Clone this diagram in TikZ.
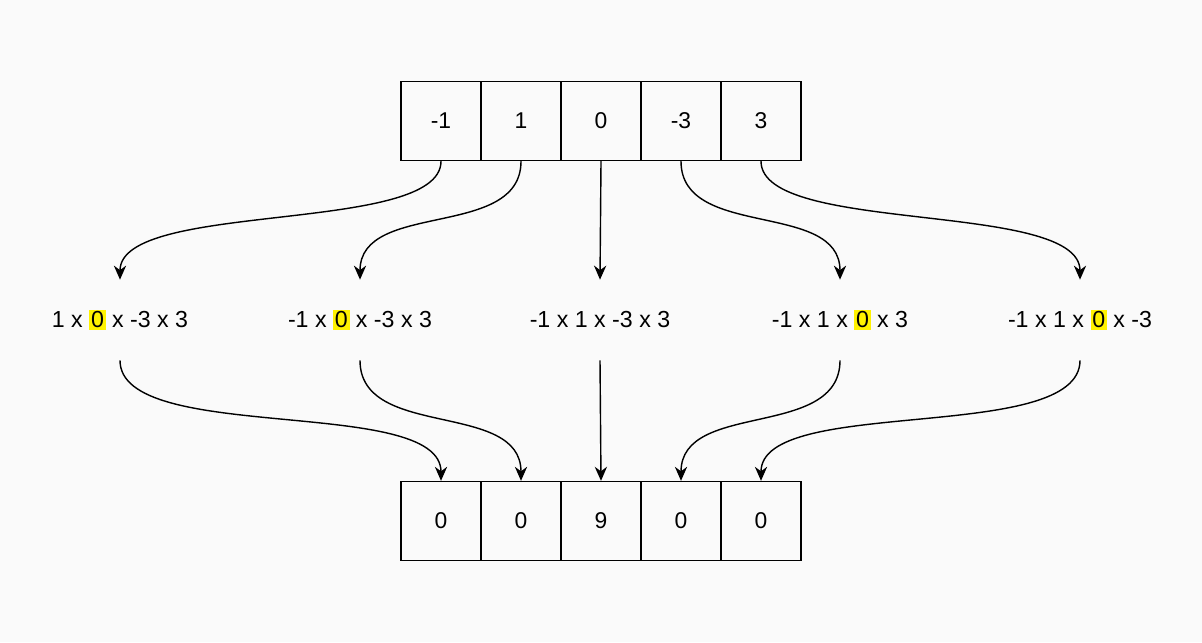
\documentclass[tikz,border=0pt]{standalone}
\usepackage{fontspec}
\setmainfont{Liberation Sans}
\usetikzlibrary{arrows.meta}
\newcommand{\hl}[1]{{\setlength{\fboxsep}{1pt}\colorbox{yellow}{#1}}}

\begin{document}
\begin{tikzpicture}[x=0.02cm,y=-0.02cm]
    \tikzstyle{cell}=[draw,thick,minimum width=1.6cm,minimum height=1.58cm,inner sep=0pt,font=\fontsize{13}{15}\selectfont];
    \tikzstyle{prod}=[minimum height=1.6cm,minimum width=1cm,inner sep=0pt,font=\fontsize{13.2}{15}\selectfont];
    \tikzstyle{flow}=[thick,-{Stealth[length=8pt,width=7pt]}];

    \fill[black!2] (0,0) rectangle (1202,642);

    \node (t1) [cell] at (441,121) {-1}; \node (t2) [cell] at (521,121) {1};
    \node (t3) [cell] at (601,121) {0}; \node (t4) [cell] at (681,121) {-3};
    \node (t5) [cell] at (761,121) {3};

    \node (b1) [cell] at (441,521) {0}; \node (b2) [cell] at (521,521) {0};
    \node (b3) [cell] at (601,521) {9}; \node (b4) [cell] at (681,521) {0};
    \node (b5) [cell] at (761,521) {0};

    \node (m1) [prod] at (120,320) {1 x \hl{0} x -3 x 3};
    \node (m2) [prod] at (360,320) {-1 x \hl{0} x -3 x 3};
    \node (m3) [prod] at (600,320) {-1 x 1 x -3 x 3};
    \node (m4) [prod] at (840,320) {-1 x 1 x \hl{0} x 3};
    \node (m5) [prod] at (1080,320) {-1 x 1 x \hl{0} x -3};

    \draw[flow] (t1.south) .. controls (441,235) and (120,200) .. (m1.north);
    \draw[flow] (t2.south) .. controls (521,240) and (360,200) .. (m2.north);
    \draw[flow] (t3.south) -- (m3.north);
    \draw[flow] (t4.south) .. controls (681,240) and (840,200) .. (m4.north);
    \draw[flow] (t5.south) .. controls (761,235) and (1080,200) .. (m5.north);

    \draw[flow] (m1.south) .. controls (120,445) and (441,395) .. (b1.north);
    \draw[flow] (m2.south) .. controls (360,440) and (521,400) .. (b2.north);
    \draw[flow] (m3.south) -- (b3.north);
    \draw[flow] (m4.south) .. controls (840,440) and (681,400) .. (b4.north);
    \draw[flow] (m5.south) .. controls (1080,445) and (761,395) .. (b5.north);
\end{tikzpicture}
\end{document}
